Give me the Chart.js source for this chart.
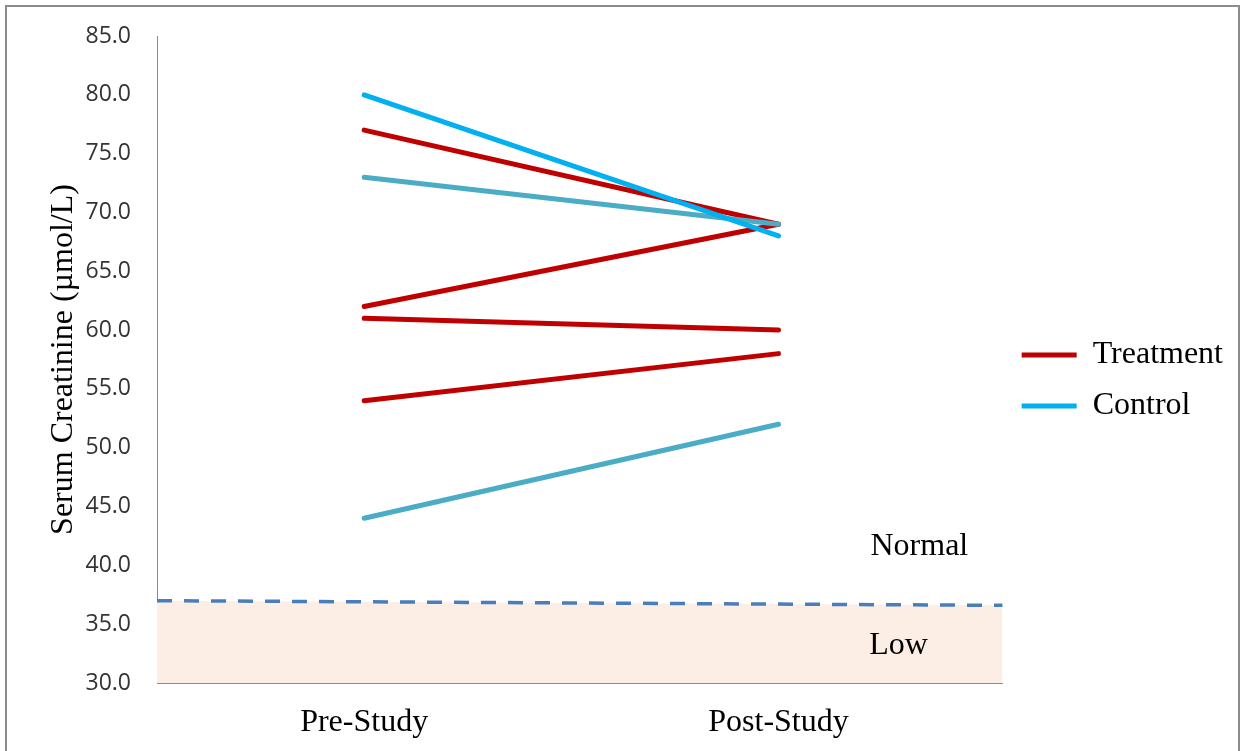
<!DOCTYPE html>
<html>
<head>
<meta charset="utf-8">
<title>Serum Creatinine</title>
<script src="https://cdn.jsdelivr.net/npm/chart.js@4.4.1/dist/chart.umd.min.js"></script>
<style>
  html, body { margin: 0; padding: 0; background: #fff; overflow: hidden; }
  #wrap { position: relative; width: 1245px; height: 751px; }
  #frame { position: absolute; left: 5px; top: 5px; width: 1231px; height: 780px;
           border: 2px solid #8c8c8c; pointer-events: none; }
</style>
</head>
<body>
<div id="wrap">
  <canvas id="myChart" width="1245" height="751"></canvas>
  <div id="frame"></div>
</div>
<script>
// data
const categories = ['Pre-Study', 'Post-Study'];
const treatmentPre = [77, 62, 61, 54];
const treatmentPost = [69, 69, 60, 58];
const controlPre = [80, 73, 44];
const controlPost = [68, 69, 52];
const lowLimit = [37.0, 36.6]; // dashed line, left end and right end
const zoneNames = ['Normal', 'Low'];

const red = '#C00000';
const controlColors = ['#00B0F0', '#4BACC6', '#4BACC6'];
const serif = '"Liberation Serif", "Times New Roman", serif';

let datasets = [];

for (let i = 0; i < treatmentPre.length; i++) {
  datasets.push({
    label: 'Treatment',
    data: [{x: 0, y: treatmentPre[i]}, {x: 1, y: treatmentPost[i]}],
    borderColor: red,
    borderWidth: 5,
    borderCapStyle: 'round',
    pointRadius: 0,
    order: 3
  });
}
for (let i = 0; i < controlPre.length; i++) {
  datasets.push({
    label: 'Control',
    data: [{x: 0, y: controlPre[i]}, {x: 1, y: controlPost[i]}],
    borderColor: controlColors[i],
    borderWidth: 5,
    borderCapStyle: 'round',
    pointRadius: 0,
    order: controlColors[i] === '#00B0F0' ? 1 : 2
  });
}
// low limit line with shaded "Low" zone below it
datasets.push({
  label: 'Low limit',
  data: [{x: -0.5, y: lowLimit[0]}, {x: 1.541, y: lowLimit[1]}],
  borderColor: '#4A7EBB',
  borderWidth: 3.5,
  borderDash: [15, 12],
  pointRadius: 0,
  fill: 'start',
  backgroundColor: '#FCEEE4',
  order: 5
});

// zone names written inside the plot
const zoneText = {
  id: 'zoneText',
  afterDatasetsDraw(chart) {
    const ctx = chart.ctx;
    const x = chart.scales.x;
    const y = chart.scales.y;
    ctx.save();
    ctx.font = '32px ' + serif;
    ctx.fillStyle = '#000';
    ctx.textAlign = 'center';
    ctx.textBaseline = 'middle';
    ctx.fillText(zoneNames[0], x.getPixelForValue(1.34), y.getPixelForValue(41.6));
    ctx.fillText(zoneNames[1], x.getPixelForValue(1.29), y.getPixelForValue(33.2));
    ctx.restore();
  }
};

const ctx = document.getElementById('myChart').getContext('2d');
const chart = new Chart(ctx, {
  type: 'line',
  data: { datasets: datasets },
  plugins: [zoneText],
  options: {
    responsive: false,
    animation: false,
    layout: { padding: { left: 44, top: 20, right: 12, bottom: 10 } },
    plugins: {
      tooltip: { enabled: false },
      legend: {
        position: 'right',
        labels: {
          boxWidth: 55,
          boxHeight: 5,
          padding: 19,
          color: '#000',
          font: { family: serif, size: 32 },
          generateLabels: function () {
            return [
              { text: 'Treatment', fillStyle: red, strokeStyle: red, lineWidth: 0, hidden: false, fontColor: '#000', datasetIndex: 0 },
              { text: 'Control', fillStyle: controlColors[0], strokeStyle: controlColors[0], lineWidth: 0, hidden: false, fontColor: '#000', datasetIndex: 4 }
            ];
          }
        }
      }
    },
    scales: {
      x: {
        type: 'linear',
        min: -0.5,
        max: 1.541,
        afterBuildTicks: function (axis) {
          axis.ticks = categories.map((c, i) => ({ value: i }));
        },
        afterFit: function (axis) { axis.height = 58; },
        ticks: {
          padding: 20,
          color: '#000',
          maxRotation: 0,
          font: { family: serif, size: 32 },
          callback: function (v) { return categories[v]; }
        },
        grid: { display: false, drawTicks: false },
        border: { display: true, color: '#8a8a8a', width: 1 }
      },
      y: {
        min: 30,
        max: 85,
        afterFit: function (axis) {
          axis.width = 113;
          axis.paddingTop = 36;
          axis.paddingBottom = 0;
        },
        ticks: {
          stepSize: 5,
          padding: 26,
          color: '#333',
          font: { family: '"Open Sans", sans-serif', size: 23 },
          callback: function (v) { return v.toFixed(1); }
        },
        grid: { display: false, drawTicks: false },
        border: { display: true, color: '#8a8a8a', width: 1 },
        title: {
          display: true,
          text: 'Serum Creatinine (µmol/L)',
          color: '#000',
          padding: { top: 0, bottom: 12 },
          font: { family: serif, size: 32 }
        }
      }
    }
  }
});
</script>
</body>
</html>
